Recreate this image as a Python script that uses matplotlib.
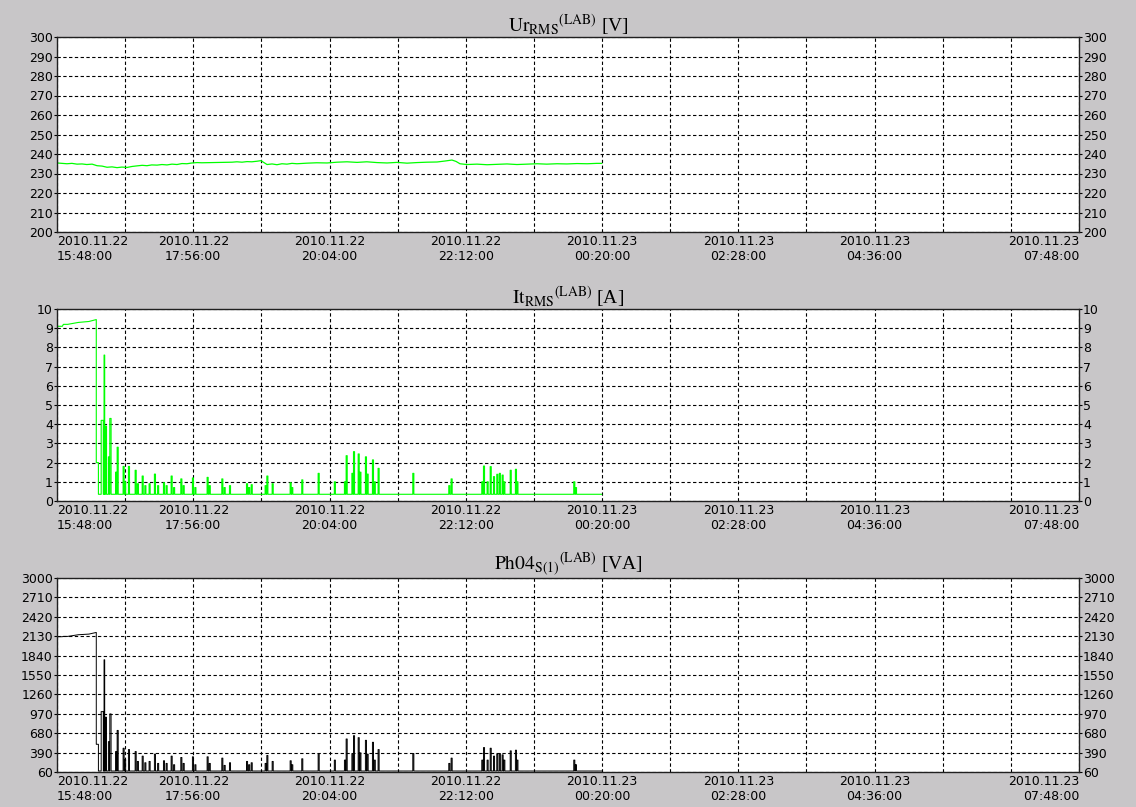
import numpy as np
import matplotlib.pyplot as plt

plt.rcParams['font.family'] = ['DejaVu Sans']
plt.rcParams['mathtext.fontset'] = 'stix'

# time axis in minutes since 2010.11.22 15:48:00
x_ticks = np.arange(0, 961, 64)
x_labels = {0: '2010.11.22\n15:48:00', 128: '2010.11.22\n17:56:00',
            256: '2010.11.22\n20:04:00', 384: '2010.11.22\n22:12:00',
            512: '2010.11.23\n00:20:00', 640: '2010.11.23\n02:28:00',
            768: '2010.11.23\n04:36:00', 960: '2010.11.23\n07:48:00'}

# voltage samples (min, V)
u_t = [0, 4.7, 9.4, 14, 18.8, 23.5, 28, 33, 37.6, 42.3, 47, 51.7, 56.4, 61, 65.8, 70.4,
       75, 80, 84.5, 89, 94, 98.6, 103.3, 108, 112.7, 117.4, 122, 126.8, 131.5, 136,
       145.6, 155, 164.4, 169, 173.8, 178.5, 183, 188, 191.6, 194.4, 197.3, 202, 206.6,
       211.3, 216, 220.7, 225.4, 234.8, 244, 253.6, 263, 272.4, 281.8, 291, 300.6, 310,
       319.4, 328.8, 338, 347.5, 357, 364.5, 371, 374.8, 378.5, 385, 394.5, 404, 413.3,
       422.7, 432, 441.5, 451, 460, 469.7, 479, 488.4, 498, 507, 511.6]
u_v = [235.4, 235.2, 235.0, 235.2, 234.8, 234.9, 234.6, 234.8, 234.0, 233.8, 233.2, 233.4,
       233.0, 233.3, 233.1, 233.6, 233.9, 234.2, 234.0, 234.4, 234.3, 234.6, 234.4, 234.8,
       234.6, 235.1, 235.0, 235.4, 235.6, 235.5, 235.6, 235.7, 235.8, 236.0, 235.8, 236.1,
       236.0, 236.3, 236.6, 235.6, 234.6, 234.9, 234.5, 235.0, 234.8, 235.2, 235.0, 235.3,
       235.5, 235.4, 235.8, 236.0, 235.7, 236.0, 235.6, 235.4, 235.7, 235.3, 235.6, 235.8,
       235.9, 236.4, 236.9, 236.2, 235.0, 234.6, 234.8, 234.5, 234.7, 234.9, 234.6, 234.8,
       235.0, 234.8, 235.0, 234.9, 235.1, 235.0, 235.2, 235.2]

# load period before switching off (min, A / VA)
head_t = [0, 5, 6, 10, 20, 30, 36.9]
head_i = [9.1, 9.1, 9.2, 9.2, 9.3, 9.35, 9.45]
head_s = [2110, 2110, 2115, 2115, 2140, 2150, 2175]
step_t = [36.9, 38.9]
step_i = 2.0
step_s = 480
base_i = 0.35
base_s = 75
t_end = 511.6

# switching pulses: centre (min), width (min), current (A), apparent power (VA)
ev_t = [42.5, 44.5, 46.0, 48.8, 50.2, 55.5, 57.0, 62.6, 64.0, 67.6, 73.9, 76.0, 80.5,
        83.0, 87.0, 92.0, 95.0, 100.5, 103.0, 107.7, 110.0, 116.8, 119.0, 127.7, 130.0,
        141.5, 143.5, 155.3, 157.5, 162.5, 178.5, 180.5, 182.9, 196.0, 197.6, 202.6,
        219.5, 221.0, 230.4, 245.8, 261.0, 270.5, 272.1, 277.5, 279.0, 283.4, 285.0,
        290.2, 291.8, 296.8, 298.5, 302.1, 334.7, 368.5, 370.7, 399.5, 401.1, 404.5,
        407.4, 410.5, 413.6, 416.0, 418.6, 420.2, 426.2, 431.1, 432.5, 485.9, 487.5]
ev_w = [2.0, 0.6, 1.0, 1.0, 1.2] + [1.0] * 64
ev_i = [4.2, 7.6, 3.9, 2.3, 4.3, 1.5, 2.8, 1.8, 1.0, 1.8, 1.6, 0.9, 1.3,
        0.8, 0.9, 1.4, 0.8, 0.95, 0.8, 1.3, 0.7, 1.15, 0.8, 1.2, 0.7,
        1.23, 0.8, 1.15, 0.7, 0.8, 0.9, 0.7, 0.85, 0.8, 1.3, 0.9,
        0.95, 0.7, 1.1, 1.44, 1.0, 1.0, 2.36, 1.44, 2.57, 2.45, 1.5,
        2.3, 1.4, 2.14, 1.0, 1.7, 1.44, 0.8, 1.15, 1.0, 1.82, 1.0,
        1.79, 1.27, 1.39, 1.44, 1.35, 1.0, 1.6, 1.65, 1.0, 1.0, 0.7]
ev_s = [975, 1760, 890, 520, 940, 370, 690, 420, 250, 400, 370, 220, 300,
        200, 220, 330, 190, 230, 190, 300, 170, 280, 190, 290, 170,
        290, 190, 270, 160, 200, 220, 170, 200, 190, 310, 220,
        230, 170, 260, 340, 240, 240, 560, 340, 610, 580, 350,
        540, 330, 510, 240, 400, 340, 190, 270, 240, 430, 240,
        420, 300, 330, 340, 320, 240, 380, 390, 240, 240, 170]


def pulse_series(peaks, base, head_y, step_y):
    # build a polyline: head level, short step, then rectangular pulses on the baseline
    xs = list(head_t) + [step_t[0], step_t[1], step_t[1]]
    ys = list(head_y) + [step_y, step_y, base]
    for t, w, p in zip(ev_t, ev_w, peaks):
        xs += [t - w / 2, t - w / 2, t + w / 2, t + w / 2]
        ys += [base, p, p, base]
    xs.append(t_end)
    ys.append(base)
    return xs, ys


panels = [
    dict(pos=[57, 37, 1079, 232], lim=(200, 300), ticks=np.linspace(200, 300, 11),
         labels=[str(v) for v in range(200, 301, 10)],
         title=r'$\mathrm{Ur}_{\mathrm{RMS}}{}^{\mathrm{(LAB)}}$ [V]'),
    dict(pos=[57, 309, 1079, 501], lim=(0, 10), ticks=np.linspace(0, 10, 11),
         labels=[str(v) for v in range(0, 11)],
         title=r'$\mathrm{It}_{\mathrm{RMS}}{}^{\mathrm{(LAB)}}$ [A]'),
    dict(pos=[57, 578, 1079, 772], lim=(60, 3000), ticks=np.linspace(60, 3000, 11),
         labels=['60', '390', '680', '970', '1260', '1550', '1840', '2130', '2420', '2710', '3000'],
         title=r'$\mathrm{Ph04}_{\mathrm{S(1)}}{}^{\mathrm{(LAB)}}$ [VA]'),
]

W, H = 1136, 807
fig = plt.figure(figsize=(W / 100, H / 100), dpi=100)
fig.patch.set_facecolor('#c8c6c8')

axes = []
for p in panels:
    x0, y0, x1, y1 = p['pos']
    ax = fig.add_axes([x0 / W, 1 - y1 / H, (x1 - x0) / W, (y1 - y0) / H])
    ax.set_facecolor('white')
    ax.set_xlim(0, 960)
    ax.set_ylim(*p['lim'])
    ax.set_yticks(p['ticks'])
    ax.set_yticklabels(p['labels'])
    ax.set_xticks(x_ticks)
    ax.set_xticklabels([x_labels.get(int(t), '') for t in x_ticks])
    for lab, t in zip(ax.get_xticklabels(), x_ticks):
        if t == 0:
            lab.set_ha('left')
        elif t == 960:
            lab.set_ha('right')
    ax.tick_params(axis='x', length=0, pad=2, labelsize=9)
    ax.tick_params(axis='y', length=2, pad=1, labelsize=9, right=True, labelright=True,
                   direction='out')
    ax.grid(True, color='black', linestyle=(0, (3, 2.2)), linewidth=0.8)
    for s in ax.spines.values():
        s.set_color('#202020')
        s.set_linewidth(1.0)
    ax.set_title(p['title'], fontsize=14, family='Liberation Serif', pad=1)
    axes.append(ax)

axes[0].plot(u_t, u_v, color='#00ff00', linewidth=0.9)

xi, yi = pulse_series(ev_i, base_i, head_i, step_i)
axes[1].plot(xi, yi, color='#00ff00', linewidth=0.8)

xs, ys = pulse_series(ev_s, base_s, head_s, step_s)
axes[2].plot(xs, ys, color='black', linewidth=0.7)

fig.savefig('out.png', dpi=100, facecolor=fig.get_facecolor())
